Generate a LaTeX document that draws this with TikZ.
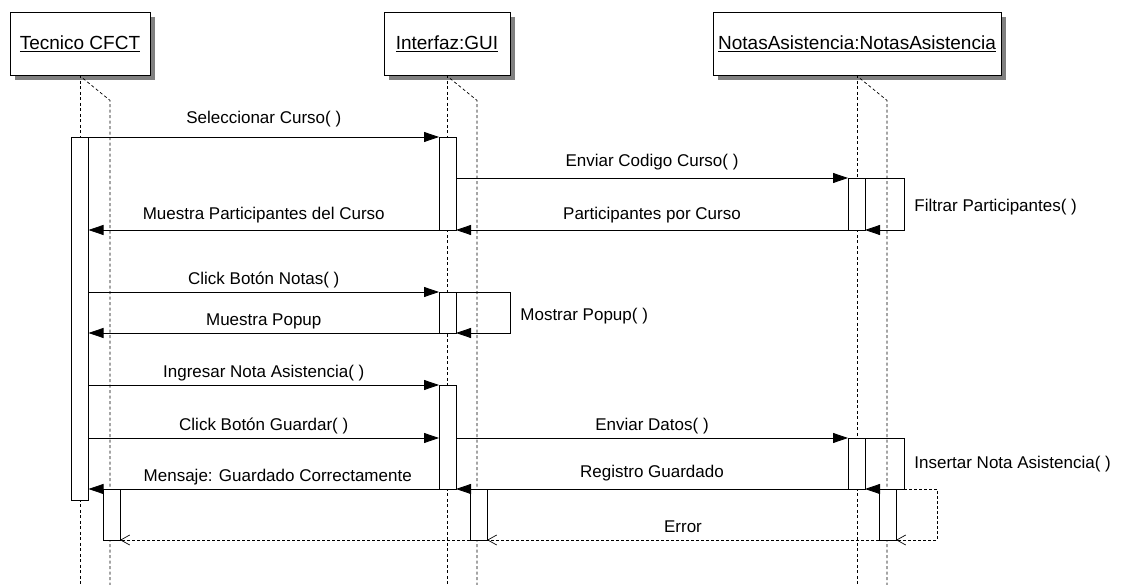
\documentclass[tikz,border=0pt]{standalone}
\usepackage{fontspec}
\setmainfont{Liberation Sans}
\usetikzlibrary{arrows.meta,shadows}
\colorlet{shd}{black!50}

\begin{document}
\begin{tikzpicture}[x=1pt,y=-1pt,font=\fontsize{17}{20}\selectfont,
        obj/.style={draw,fill=white,line width=0.8pt,minimum height=63pt,inner sep=0pt,
            font=\fontsize{19}{22}\selectfont,
            drop shadow={shadow xshift=5pt,shadow yshift=-5pt,fill=shd,opacity=1}},
        life/.style={line width=0.7pt,dash pattern=on 3pt off 2.5pt},
        bar/.style={draw,fill=white,line width=0.8pt,minimum width=17pt,inner sep=0pt,outer sep=0pt,anchor=north},
        call/.style={line width=0.8pt,-{Triangle[length=15pt,width=10pt]}},
        back/.style={line width=0.7pt,dash pattern=on 3pt off 2pt,-{Straight Barb[length=9pt,width=10pt]}},
        lbl/.style={text height=13pt,text depth=4pt,inner sep=3pt}]
            \useasboundingbox (0,0) rectangle (1144,585);
            \coordinate (bot) at (0,585);

            \node [obj,minimum width=140pt] (tec) at (80,43.5) {\underline{Tecnico CFCT}};
            \node [obj,minimum width=126pt] (gui) at (447,43.5) {\underline{Interfaz:GUI}};
            \node [obj,minimum width=288pt] (nas) at (857,43.5) {\underline{NotasAsistencia:NotasAsistencia}};

            \foreach \n in {tec,gui,nas} {
                \draw [life] (\n.south) -- (\n.south |- bot);
                \draw [life] ([shift={(3pt,-3pt)}]\n.south) -- ++(27,22) -- ++(0,485);
            }

            \node [bar,minimum height=363pt] (t1) at (80,137) {};
            \node [bar,minimum height=51pt] (t2) at (111.5,489) {};
            \node [bar,minimum height=93pt] (g1) at (447.5,137) {};
            \node [bar,minimum height=41pt] (g2) at (447.5,292) {};
            \node [bar,minimum height=104pt] (g3) at (447.5,385) {};
            \node [bar,minimum height=51pt] (g4) at (478.5,489) {};
            \node [bar,minimum height=52pt] (n1) at (856.5,178) {};
            \node [bar,minimum height=51pt] (n2) at (856.5,438) {};
            \node [bar,minimum height=51pt] (n3) at (887.5,489) {};

            \draw [call] (g1.north west -| t1.east) -- (g1.north west)
                node [lbl,midway,above,yshift=6pt] {Seleccionar Curso( )};
            \draw [call] (n1.north west -| g1.east) -- (n1.north west)
                node [lbl,midway,above,yshift=4pt] {Enviar Codigo Curso( )};
            \draw [call] (n1.north east) -- ++(39,0) |- (n1.south east)
                node [lbl,pos=0.25,right=7pt,yshift=-3pt] {Filtrar Participantes( )};
            \draw [call] (n1.south west) -- (g1.south east)
                node [lbl,midway,above,yshift=3pt] {Participantes por Curso};
            \draw [call] (g1.south west) -- (g1.south west -| t1.east)
                node [lbl,midway,above,yshift=3pt] {Muestra Participantes del Curso};

            \draw [call] (g2.north west -| t1.east) -- (g2.north west)
                node [lbl,midway,above] {Click Botón Notas( )};
            \draw [call] (g2.north east) -- ++(54,0) |- (g2.south east)
                node [lbl,pos=0.25,right=7pt,yshift=-4pt] {Mostrar Popup( )};
            \draw [call] (g2.south west) -- (g2.south west -| t1.east)
                node [lbl,midway,above] {Muestra Popup};

            \draw [call] (g3.north west -| t1.east) -- (g3.north west)
                node [lbl,midway,above] {Ingresar Nota Asistencia( )};
            \draw [call] (n2.north west -| t1.east) -- (n2.north west -| g3.west)
                node [lbl,midway,above] {Click Botón Guardar( )};
            \draw [call] (n2.north west -| g3.east) -- (n2.north west)
                node [lbl,midway,above] {Enviar Datos( )};
            \draw [call] (n2.north east) -- ++(39,0) |- (n2.south east)
                node [lbl,pos=0.25,right=7pt] {Insertar Nota Asistencia( )};
            \draw [call] (n2.south west) -- (g3.south east)
                node [lbl,midway,above,yshift=4pt] {Registro Guardado};
            \draw [call] (g3.south west) -- (g3.south west -| t1.east)
                node [lbl,midway,above,xshift=14pt] {Mensaje: Guardado Correctamente};

            \draw [back] ([xshift=39pt]n2.south east) -- ++(33,0) |- (n3.south east);
            \draw [back] (n3.south west) -- (g4.south east)
                node [lbl,midway,above] {Error};
            \draw [back] (g4.south west) -- (t2.south east);
        \end{tikzpicture}
\end{document}
